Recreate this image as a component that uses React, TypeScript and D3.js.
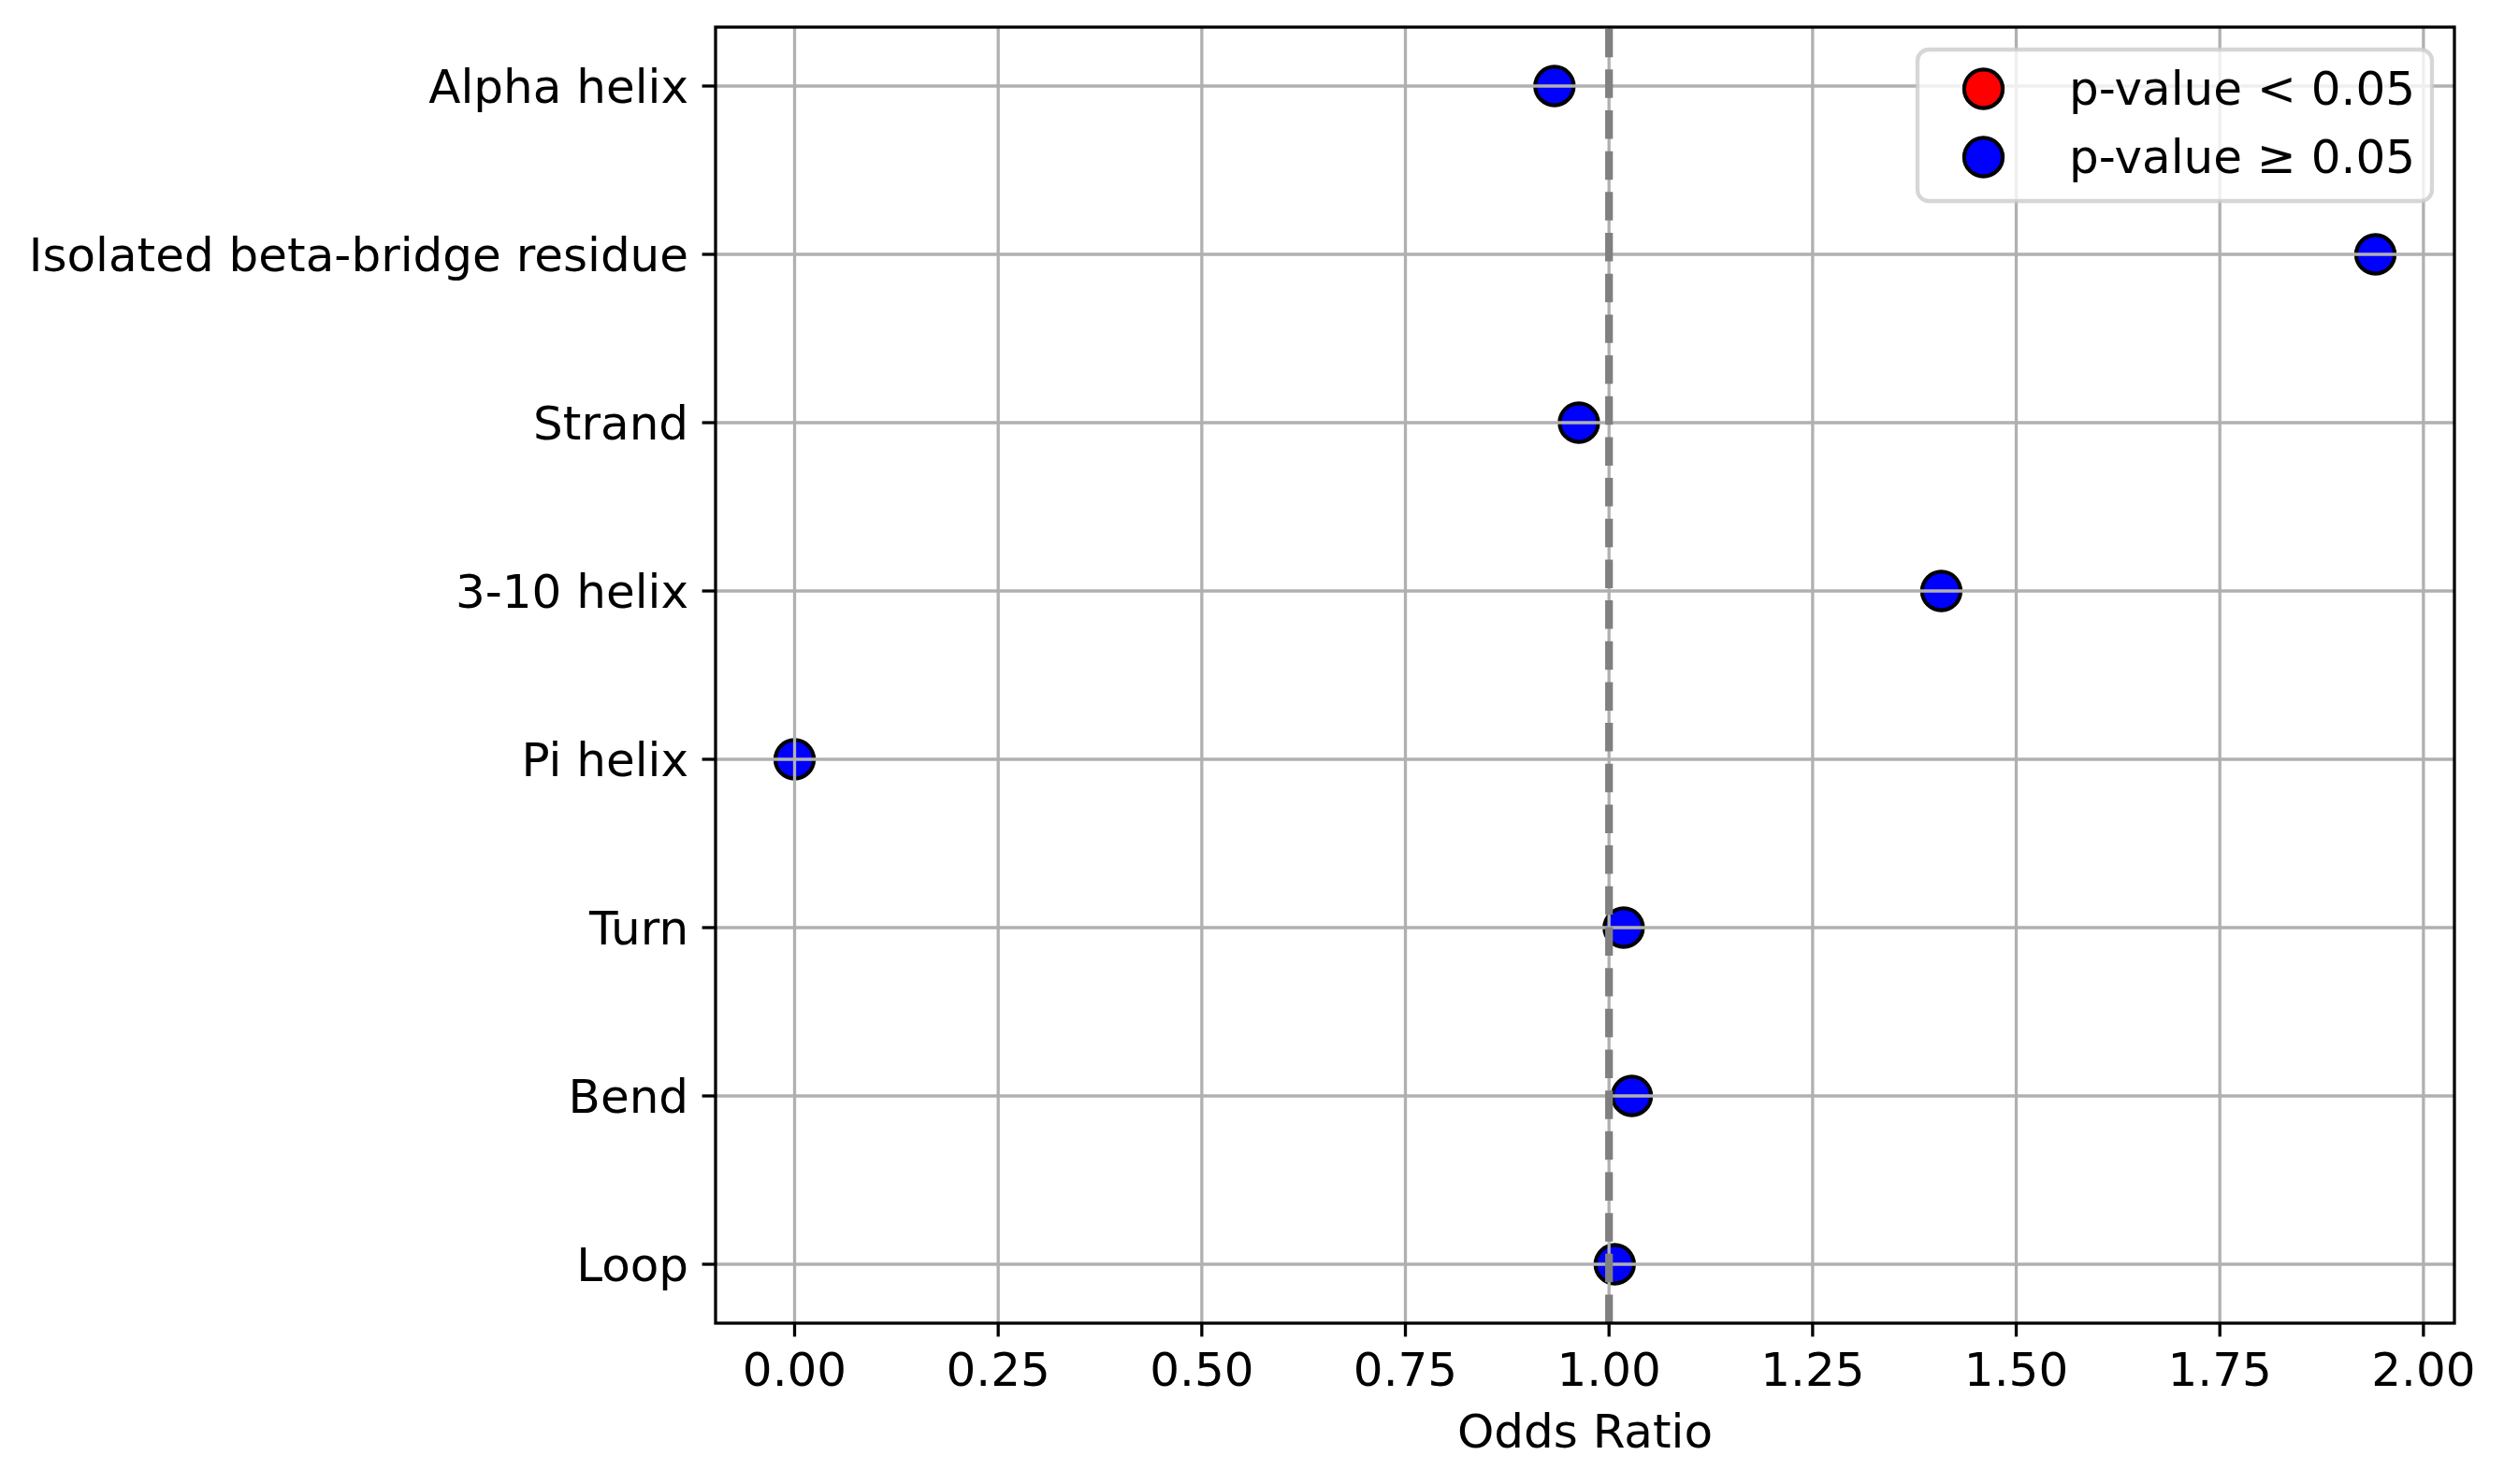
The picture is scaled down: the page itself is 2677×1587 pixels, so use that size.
import React from "react";
import * as d3 from "d3";

const categories = [
  "Alpha helix",
  "Isolated beta-bridge residue",
  "Strand",
  "3-10 helix",
  "Pi helix",
  "Turn",
  "Bend",
  "Loop",
];
const oddsRatios = [0.933, 1.941, 0.963, 1.408, 0.0, 1.018, 1.028, 1.007];
const pValueSignificant = [false, false, false, false, false, false, false, false];
const xTicks = [0, 0.25, 0.5, 0.75, 1.0, 1.25, 1.5, 1.75, 2.0];
const legendLabels = ["p-value < 0.05", "p-value \u2265 0.05"];
const legendColors = ["red", "blue"];
const referenceLine = 1.0;

const W = 2677;
const H = 1587;
const L = 765;
const R = 2624;
const T = 29;
const B = 1415;
const FONT = "DejaVu Sans";
const PT = 4.12;

export default function App() {
  const xmin = d3.min(oddsRatios)!;
  const xmax = d3.max(oddsRatios)!;
  const pad = (xmax - xmin) * 0.05;
  const x = d3.scaleLinear().domain([xmin - pad, xmax + pad]).range([L, R]);
  const yStep = (B - T) / (categories.length - 1 + 0.7);
  const y = d3
    .scalePoint<string>()
    .domain(categories)
    .range([T + 0.35 * yStep, B - 0.35 * yStep]);

  const gridW = 0.8 * PT;
  const tickLen = 3.5 * PT;
  const r = 5 * PT;
  const fs = 50;

  const lg = { x: 2050, y: 53, w: 550, h: 162 };

  return (
    <div style={{ position: "absolute", left: 0, top: 0 }}>
      <svg width={W} height={H} style={{ display: "block", background: "white" }} fontFamily={FONT}>
        <rect x={0} y={0} width={W} height={H} fill="white" />
        {/* points */}
        {categories.map((c, i) => (
          <circle
            key={c}
            cx={x(oddsRatios[i])}
            cy={y(c)!}
            r={r}
            fill={pValueSignificant[i] ? "red" : "blue"}
            stroke="black"
            strokeWidth={PT}
          />
        ))}
        {/* grid */}
        {xTicks.map((t) => (
          <line key={"gx" + t} x1={x(t)} x2={x(t)} y1={T} y2={B} stroke="#b0b0b0" strokeWidth={gridW} />
        ))}
        {categories.map((c) => (
          <line key={"gy" + c} x1={L} x2={R} y1={y(c)!} y2={y(c)!} stroke="#b0b0b0" strokeWidth={gridW} />
        ))}
        {/* reference line */}
        <line
          x1={x(referenceLine)}
          x2={x(referenceLine)}
          y1={B}
          y2={T}
          stroke="#808080"
          strokeWidth={2 * PT}
          strokeDasharray={`${7.4 * PT},${3.2 * PT}`}
        />
        {/* spines */}
        <rect x={L} y={T} width={R - L} height={B - T} fill="none" stroke="black" strokeWidth={gridW} />
        {/* x ticks */}
        {xTicks.map((t) => (
          <g key={"xt" + t}>
            <line x1={x(t)} x2={x(t)} y1={B} y2={B + tickLen} stroke="black" strokeWidth={gridW} />
            <text x={x(t)} y={1482} textAnchor="middle" fontSize={fs} fill="black">
              {d3.format(".2f")(t)}
            </text>
          </g>
        ))}
        {/* y ticks */}
        {categories.map((c) => (
          <g key={"yt" + c}>
            <line x1={L - tickLen} x2={L} y1={y(c)!} y2={y(c)!} stroke="black" strokeWidth={gridW} />
            <text x={L - tickLen - 14.5} y={y(c)! + 18} textAnchor="end" fontSize={fs} fill="black">
              {c}
            </text>
          </g>
        ))}
        <text x={(L + R) / 2} y={1548} textAnchor="middle" fontSize={fs} fill="black">
          Odds Ratio
        </text>
        {/* legend */}
        <rect
          x={lg.x}
          y={lg.y}
          width={lg.w}
          height={lg.h}
          rx={12}
          ry={12}
          fill="white"
          fillOpacity={0.8}
          stroke="#cccccc"
          strokeOpacity={0.8}
          strokeWidth={gridW + 1}
        />
        {legendLabels.map((lab, i) => (
          <g key={lab}>
            <circle cx={2120.5} cy={95 + i * 73} r={r} fill={legendColors[i]} stroke="black" strokeWidth={PT} />
            <text x={2212} y={112 + i * 73} fontSize={fs} fill="black">
              {lab}
            </text>
          </g>
        ))}
      </svg>
    </div>
  );
}
